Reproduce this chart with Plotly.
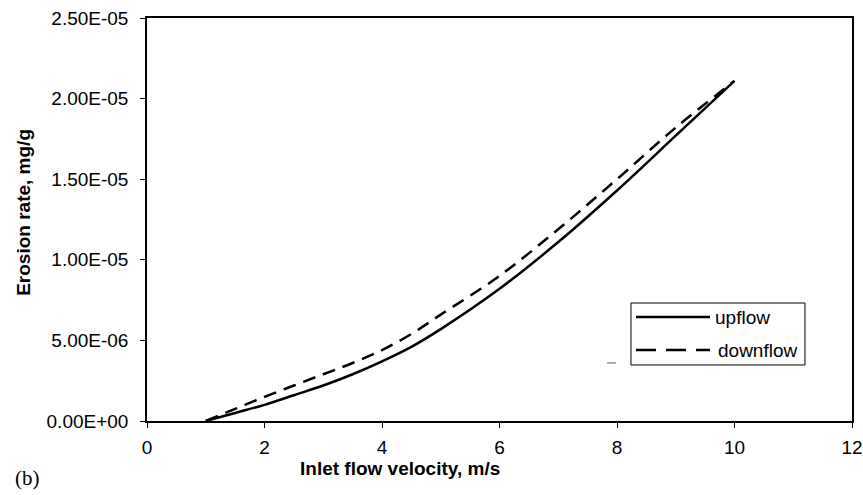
import plotly.graph_objects as go

velocity = [1, 1.5, 2, 2.5, 3, 3.5, 4, 4.5, 5, 6, 7, 8, 9, 10]
upflow = [0, 0.5e-6, 1.0e-6, 1.6e-6, 2.2e-6, 2.9e-6, 3.7e-6, 4.6e-6, 5.7e-6, 8.2e-6, 11.1e-6, 14.3e-6, 17.7e-6, 21.1e-6]
downflow = [0, 0.75e-6, 1.5e-6, 2.2e-6, 2.9e-6, 3.6e-6, 4.4e-6, 5.4e-6, 6.6e-6, 9.0e-6, 11.9e-6, 15.0e-6, 18.2e-6, 21.1e-6]

x_ticks = [0, 2, 4, 6, 8, 10, 12]
y_ticks = [0, 5e-6, 1e-5, 1.5e-5, 2e-5, 2.5e-5]
y_tick_labels = ["0.00E+00", "5.00E-06", "1.00E-05", "1.50E-05", "2.00E-05", "2.50E-05"]
series_names = ["upflow", "downflow"]

DASH = "13px,8px"
fig = go.Figure()
fig.add_trace(go.Scatter(x=velocity, y=upflow, mode="lines", name=series_names[0],
                         line=dict(color="black", width=2.5, shape="spline")))
fig.add_trace(go.Scatter(x=velocity, y=downflow, mode="lines", name=series_names[1],
                         line=dict(color="black", width=2.5, dash=DASH, shape="spline")))

font_family = "Liberation Sans, Arial, sans-serif"

# legend drawn as paper-space shapes to match the long sample lines
shapes = [
    dict(type="rect", xref="paper", yref="paper", x0=0.6865, x1=0.9333, y0=0.139, y1=0.2928,
         line=dict(color="black", width=1), fillcolor="white", layer="above"),
    dict(type="line", xref="paper", yref="paper", x0=0.6936, x1=0.7986, y0=0.258, y1=0.258,
         line=dict(color="black", width=2.5), layer="above"),
    dict(type="line", xref="paper", yref="paper", x0=0.6936, x1=0.7986, y0=0.176, y1=0.176,
         line=dict(color="black", width=2.5, dash="20px,10px"), layer="above"),
    dict(type="line", xref="paper", yref="paper", x0=0.6525, x1=0.665, y0=0.144, y1=0.144,
         line=dict(color="#555555", width=1), layer="above"),
]

fig.update_layout(
    width=863, height=495,
    margin=dict(l=147, r=11, t=18, b=74),
    paper_bgcolor="white", plot_bgcolor="white",
    font=dict(family=font_family, size=19, color="black"),
    showlegend=False,
    xaxis=dict(range=[0, 12], tickvals=x_ticks, ticktext=[str(v) for v in x_ticks],
               showgrid=False, zeroline=False, showline=True, linecolor="black",
               linewidth=1.5, mirror=True, ticks="outside", ticklen=5, tickcolor="black",
               tickfont=dict(size=19), ticklabelstandoff=3, automargin=False),
    yaxis=dict(range=[0, 2.5e-5], tickvals=y_ticks, ticktext=y_tick_labels,
               showgrid=False, zeroline=False, showline=True, linecolor="black",
               linewidth=1.5, mirror=True, ticks="outside", ticklen=5, tickcolor="black",
               tickfont=dict(size=19), ticklabelstandoff=8, automargin=False),
    shapes=shapes,
    annotations=[
        dict(text="<b>Inlet flow velocity, m/s</b>", xref="paper", yref="paper",
             x=0.359, y=-0.117, xanchor="center", yanchor="middle", showarrow=False,
             font=dict(size=19)),
        dict(text="<b>Erosion rate, mg/g</b>", xref="paper", yref="paper",
             x=-0.1745, y=0.519, xanchor="center", yanchor="middle", showarrow=False,
             textangle=-90, font=dict(size=19)),
        dict(text="(b)", xref="paper", yref="paper", x=-0.1901, y=-0.1414,
             xanchor="left", yanchor="middle", showarrow=False,
             font=dict(family="Liberation Serif, Times New Roman, serif", size=21)),
        dict(text=series_names[0], xref="paper", yref="paper", x=0.8028, y=0.258,
             xanchor="left", yanchor="middle", showarrow=False, font=dict(size=19)),
        dict(text=series_names[1], xref="paper", yref="paper", x=0.8068, y=0.176,
             xanchor="left", yanchor="middle", showarrow=False, font=dict(size=19)),
    ],
)

fig.write_html("out.html", config={"displayModeBar": False},
               post_script="document.body.style.margin='0px';document.body.style.overflow='hidden';")
